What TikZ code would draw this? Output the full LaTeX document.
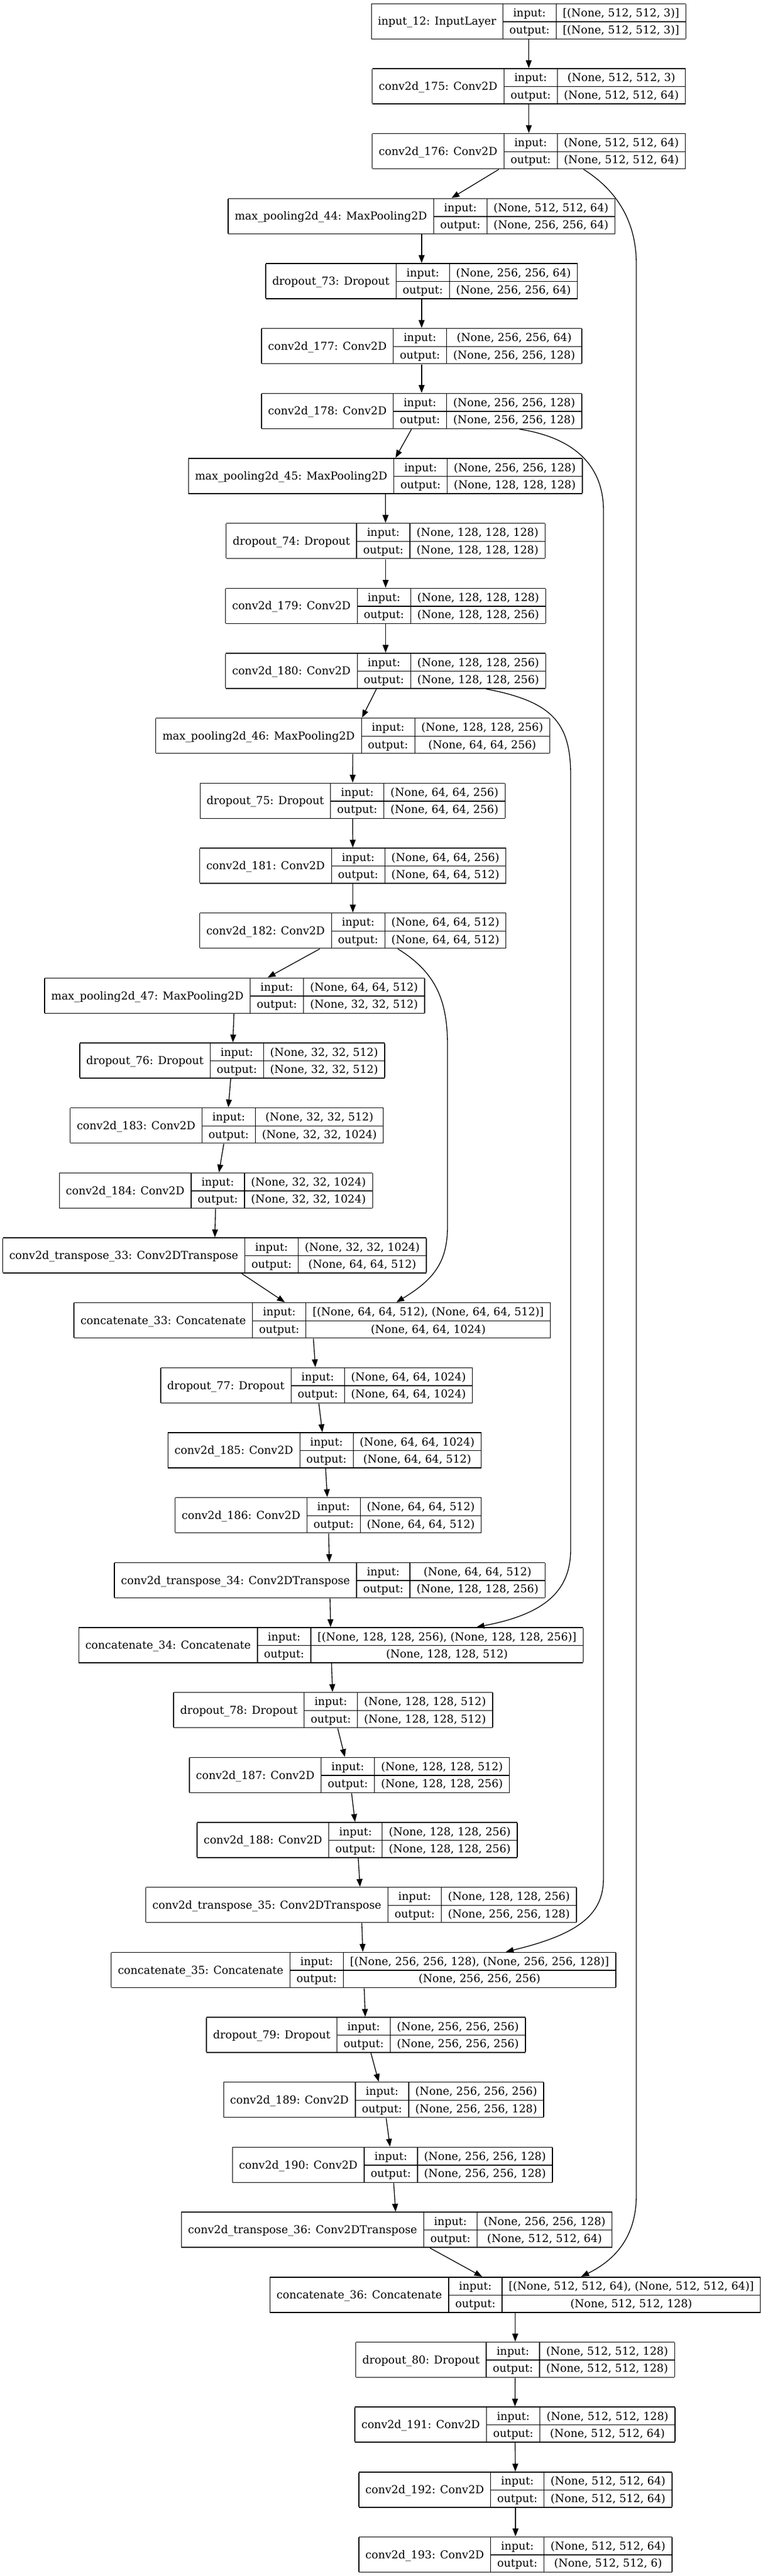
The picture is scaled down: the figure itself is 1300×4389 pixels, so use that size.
\documentclass[tikz,border=0pt]{standalone}
\usepackage{fontspec}
\setmainfont{DejaVu Serif}
\usetikzlibrary{arrows.meta}
\setlength{\tabcolsep}{8.44pt}
\setlength{\arrayrulewidth}{1pt}
\newcommand{\linha}{\rule[-6pt]{0pt}{22pt}}
\newcommand{\tabela}[3]{%
  \begin{tabular}{|c|c|c|}\hline
    \raisebox{-11pt}[0pt][0pt]{#1} & input:\linha & #2\\\cline{2-3}
    & output:\linha & #3\\\hline
  \end{tabular}}
\begin{document}
\begin{tikzpicture}[
            x=0.75pt, y=-0.75pt,
            camada/.style={shape=rectangle, inner sep=0pt, font=\fontsize{14pt}{17pt}\selectfont},
            seta/.style={line width=1pt, -{Triangle[length=10pt, width=7.5pt]}},
        ]
        \useasboundingbox (0, 0) rectangle (1300, 4389);

        \node[camada] (in12) at (901.3, 36.3) {\tabela{input\_12: InputLayer}{[(None, 512, 512, 3)]}{[(None, 512, 512, 3)]}};
        \node[camada] (c175) at (901.7, 147.0) {\tabela{conv2d\_175: Conv2D}{(None, 512, 512, 3)}{(None, 512, 512, 64)}};
        \node[camada] (c176) at (901.7, 257.6) {\tabela{conv2d\_176: Conv2D}{(None, 512, 512, 64)}{(None, 512, 512, 64)}};
        \node[camada] (mp44) at (718.9, 368.3) {\tabela{max\_pooling2d\_44: MaxPooling2D}{(None, 512, 512, 64)}{(None, 256, 256, 64)}};
        \node[camada] (dr73) at (718.9, 479.0) {\tabela{dropout\_73: Dropout}{(None, 256, 256, 64)}{(None, 256, 256, 64)}};
        \node[camada] (c177) at (718.9, 589.7) {\tabela{conv2d\_177: Conv2D}{(None, 256, 256, 64)}{(None, 256, 256, 128)}};
        \node[camada] (c178) at (718.9, 700.3) {\tabela{conv2d\_178: Conv2D}{(None, 256, 256, 128)}{(None, 256, 256, 128)}};
        \node[camada] (mp45) at (657.1, 811.0) {\tabela{max\_pooling2d\_45: MaxPooling2D}{(None, 256, 256, 128)}{(None, 128, 128, 128)}};
        \node[camada] (dr74) at (657.5, 921.7) {\tabela{dropout\_74: Dropout}{(None, 128, 128, 128)}{(None, 128, 128, 128)}};
        \node[camada] (c179) at (657.5, 1032.3) {\tabela{conv2d\_179: Conv2D}{(None, 128, 128, 128)}{(None, 128, 128, 256)}};
        \node[camada] (c180) at (657.5, 1143.0) {\tabela{conv2d\_180: Conv2D}{(None, 128, 128, 256)}{(None, 128, 128, 256)}};
        \node[camada] (mp46) at (601.6, 1253.7) {\tabela{max\_pooling2d\_46: MaxPooling2D}{(None, 128, 128, 256)}{(None, 64, 64, 256)}};
        \node[camada] (dr75) at (601.2, 1364.3) {\tabela{dropout\_75: Dropout}{(None, 64, 64, 256)}{(None, 64, 64, 256)}};
        \node[camada] (c181) at (601.6, 1475.0) {\tabela{conv2d\_181: Conv2D}{(None, 64, 64, 256)}{(None, 64, 64, 512)}};
        \node[camada] (c182) at (601.6, 1585.7) {\tabela{conv2d\_182: Conv2D}{(None, 64, 64, 512)}{(None, 64, 64, 512)}};
        \node[camada] (mp47) at (400.1, 1696.4) {\tabela{max\_pooling2d\_47: MaxPooling2D}{(None, 64, 64, 512)}{(None, 32, 32, 512)}};
        \node[camada] (dr76) at (395.9, 1807.0) {\tabela{dropout\_76: Dropout}{(None, 32, 32, 512)}{(None, 32, 32, 512)}};
        \node[camada] (c183) at (386.8, 1917.7) {\tabela{conv2d\_183: Conv2D}{(None, 32, 32, 512)}{(None, 32, 32, 1024)}};
        \node[camada] (c184) at (368.2, 2028.4) {\tabela{conv2d\_184: Conv2D}{(None, 32, 32, 1024)}{(None, 32, 32, 1024)}};
        \node[camada] (ct33) at (365.7, 2139.0) {\tabela{conv2d\_transpose\_33: Conv2DTranspose}{(None, 32, 32, 1024)}{(None, 64, 64, 512)}};
        \node[camada] (cat33) at (532.3, 2249.7) {\tabela{concatenate\_33: Concatenate}{[(None, 64, 64, 512), (None, 64, 64, 512)]}{(None, 64, 64, 1024)}};
        \node[camada] (dr77) at (539.8, 2360.4) {\tabela{dropout\_77: Dropout}{(None, 64, 64, 1024)}{(None, 64, 64, 1024)}};
        \node[camada] (c185) at (553.5, 2471.0) {\tabela{conv2d\_185: Conv2D}{(None, 64, 64, 1024)}{(None, 64, 64, 512)}};
        \node[camada] (c186) at (559.7, 2581.7) {\tabela{conv2d\_186: Conv2D}{(None, 64, 64, 512)}{(None, 64, 64, 512)}};
        \node[camada] (ct34) at (562.2, 2692.4) {\tabela{conv2d\_transpose\_34: Conv2DTranspose}{(None, 64, 64, 512)}{(None, 128, 128, 256)}};
        \node[camada] (cat34) at (564.3, 2803.1) {\tabela{concatenate\_34: Concatenate}{[(None, 128, 128, 256), (None, 128, 128, 256)]}{(None, 128, 128, 512)}};
        \node[camada] (dr78) at (568.0, 2913.7) {\tabela{dropout\_78: Dropout}{(None, 128, 128, 512)}{(None, 128, 128, 512)}};
        \node[camada] (c187) at (595.8, 3024.4) {\tabela{conv2d\_187: Conv2D}{(None, 128, 128, 512)}{(None, 128, 128, 256)}};
        \node[camada] (c188) at (609.0, 3135.1) {\tabela{conv2d\_188: Conv2D}{(None, 128, 128, 256)}{(None, 128, 128, 256)}};
        \node[camada] (ct35) at (615.7, 3245.7) {\tabela{conv2d\_transpose\_35: Conv2DTranspose}{(None, 128, 128, 256)}{(None, 256, 256, 128)}};
        \node[camada] (cat35) at (619.8, 3356.4) {\tabela{concatenate\_35: Concatenate}{[(None, 256, 256, 128), (None, 256, 256, 128)]}{(None, 256, 256, 256)}};
        \node[camada] (dr79) at (624.0, 3467.1) {\tabela{dropout\_79: Dropout}{(None, 256, 256, 256)}{(None, 256, 256, 256)}};
        \node[camada] (c189) at (654.2, 3577.7) {\tabela{conv2d\_189: Conv2D}{(None, 256, 256, 256)}{(None, 256, 256, 128)}};
        \node[camada] (c190) at (669.2, 3688.4) {\tabela{conv2d\_190: Conv2D}{(None, 256, 256, 128)}{(None, 256, 256, 128)}};
        \node[camada] (ct36) at (676.6, 3799.1) {\tabela{conv2d\_transpose\_36: Conv2DTranspose}{(None, 256, 256, 128)}{(None, 512, 512, 64)}};
        \node[camada] (cat36) at (878.5, 3909.8) {\tabela{concatenate\_36: Concatenate}{[(None, 512, 512, 64), (None, 512, 512, 64)]}{(None, 512, 512, 128)}};
        \node[camada] (dr80) at (878.5, 4020.4) {\tabela{dropout\_80: Dropout}{(None, 512, 512, 128)}{(None, 512, 512, 128)}};
        \node[camada] (c191) at (878.0, 4131.1) {\tabela{conv2d\_191: Conv2D}{(None, 512, 512, 128)}{(None, 512, 512, 64)}};
        \node[camada] (c192) at (879.0, 4241.8) {\tabela{conv2d\_192: Conv2D}{(None, 512, 512, 64)}{(None, 512, 512, 64)}};
        \node[camada] (c193) at (879.0, 4352.4) {\tabela{conv2d\_193: Conv2D}{(None, 512, 512, 64)}{(None, 512, 512, 6)}};

        \draw[seta] (in12) -- (c175);
        \draw[seta] (c175) -- (c176);
        \draw[seta] (c176) -- (mp44);
        \draw[seta] (mp44) -- (dr73);
        \draw[seta] (dr73) -- (c177);
        \draw[seta] (c177) -- (c178);
        \draw[seta] (c178) -- (mp45);
        \draw[seta] (mp45) -- (dr74);
        \draw[seta] (dr74) -- (c179);
        \draw[seta] (c179) -- (c180);
        \draw[seta] (c180) -- (mp46);
        \draw[seta] (mp46) -- (dr75);
        \draw[seta] (dr75) -- (c181);
        \draw[seta] (c181) -- (c182);
        \draw[seta] (c182) -- (mp47);
        \draw[seta] (mp47) -- (dr76);
        \draw[seta] (dr76) -- (c183);
        \draw[seta] (c183) -- (c184);
        \draw[seta] (c184) -- (ct33);
        \draw[seta] (ct33) -- (cat33);
        \draw[seta] (cat33) -- (dr77);
        \draw[seta] (dr77) -- (c185);
        \draw[seta] (c185) -- (c186);
        \draw[seta] (c186) -- (ct34);
        \draw[seta] (ct34) -- (cat34);
        \draw[seta] (cat34) -- (dr78);
        \draw[seta] (dr78) -- (c187);
        \draw[seta] (c187) -- (c188);
        \draw[seta] (c188) -- (ct35);
        \draw[seta] (ct35) -- (cat35);
        \draw[seta] (cat35) -- (dr79);
        \draw[seta] (dr79) -- (c189);
        \draw[seta] (c189) -- (c190);
        \draw[seta] (c190) -- (ct36);
        \draw[seta] (ct36) -- (cat36);
        \draw[seta] (cat36) -- (dr80);
        \draw[seta] (dr80) -- (c191);
        \draw[seta] (c191) -- (c192);
        \draw[seta] (c192) -- (c193);

        \draw[seta] ([shift={(93.3,0)}]c176.south) .. controls (1045, 320) and (1085, 370) .. (1085, 450)
            -- (1085, 3740) .. controls (1085, 3810) and (1050, 3850) .. ([shift={(112.5,0)}]cat36.north);
        \draw[seta] ([shift={(166.7,0)}]c178.south) .. controls (975, 745) and (1029, 790) .. (1029, 870)
            -- (1029, 3200) .. controls (1029, 3260) and (990, 3295) .. ([shift={(242.6,0)}]cat35.north);
        \draw[seta] ([shift={(171.5,0)}]c180.south) .. controls (940, 1195) and (973, 1230) .. (973, 1320)
            -- (973, 2640) .. controls (973, 2710) and (930, 2750) .. ([shift={(248.3,0)}]cat34.north);
        \draw[seta] ([shift={(76.7,0)}]c182.south) .. controls (740, 1655) and (763, 1700) .. (763, 1780)
            -- (763, 2090) .. controls (763, 2150) and (740, 2180) .. ([shift={(143.5,0)}]cat33.north);

    \end{tikzpicture}
\end{document}
